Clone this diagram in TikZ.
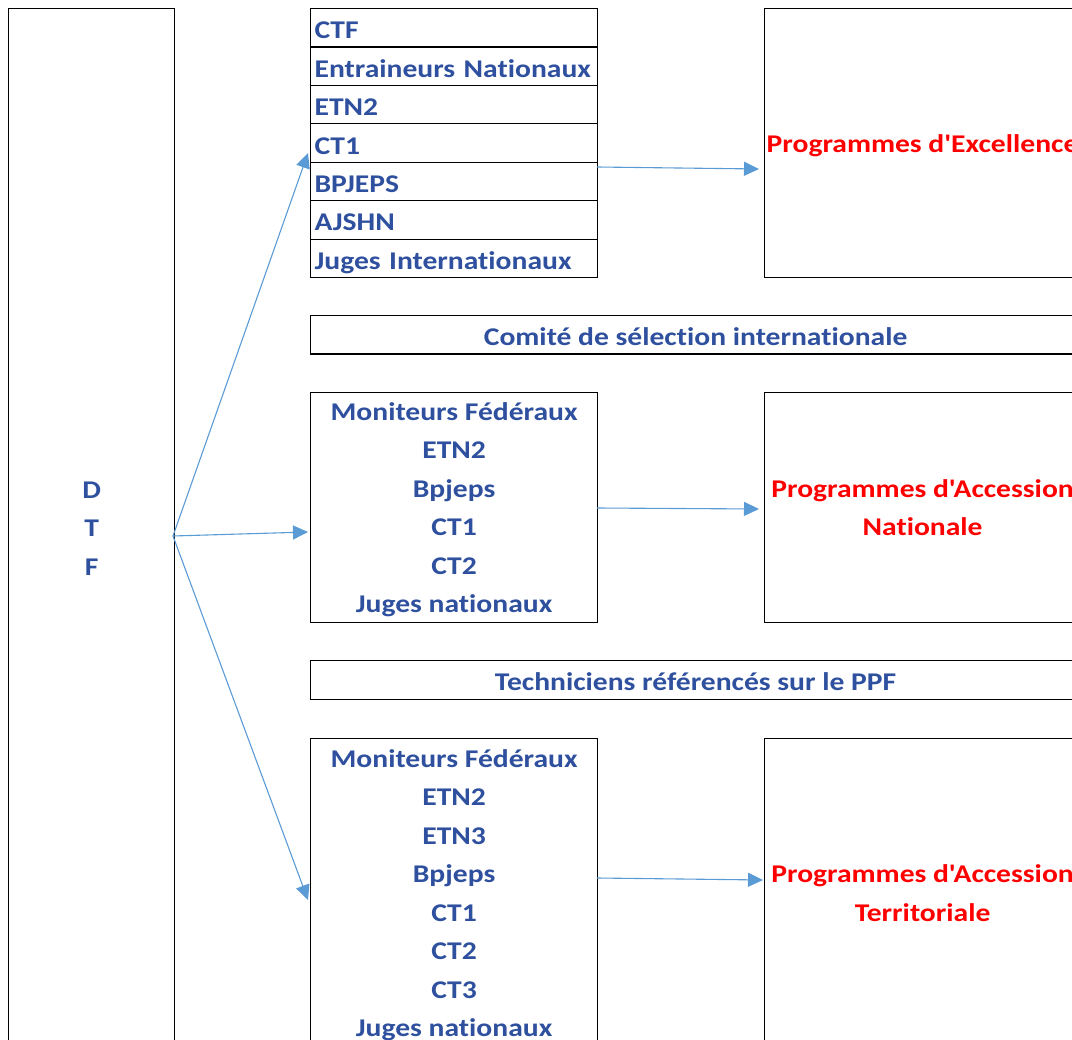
\documentclass[tikz,border=0pt]{standalone}
\usepackage{fontspec}
\newfontfamily\calfont{Carlito}[Ligatures=NoCommon, FakeStretch=1.16]
\usetikzlibrary{arrows.meta}
\definecolor{txtblue}{RGB}{46,80,158}
\definecolor{arrblue}{RGB}{91,155,213}
\definecolor{pred}{RGB}{255,0,0}
\begin{document}
\begin{tikzpicture}[x=1pt,y=-1pt,
  font=\calfont\fontsize{25.5}{38.5}\selectfont\bfseries,
  box/.style={draw=black, line width=1.2pt, inner sep=0pt, anchor=north west},
  row/.style={box, minimum width=287, minimum height=38.43, text width=279, align=left, inner xsep=4pt, text=txtblue, text height=22, text depth=0},
  blist/.style={box, minimum width=287, align=center, text=txtblue, text depth=0},
  prog/.style={box, minimum width=316, align=center, text=pred, text depth=0},
  bar/.style={box, minimum width=770, minimum height=38.5, text=txtblue, text height=22, text depth=0},
  arr/.style={draw=arrblue, line width=1.1pt, -{Triangle[length=15pt,width=14pt]}}]
\clip (0,0) rectangle (1072,1040);
\node[box, minimum width=166, minimum height=1040, align=center, text=txtblue] (dtf) at (8,8) {D\\T\\F};
\foreach \t [count=\i] in {CTF, Entraineurs Nationaux, ETN2, CT1, BPJEPS, AJSHN, Juges Internationaux}
  \node[row] (r\i) at (310,{8+38.43*(\i-1)}) {\t};
\node[prog, minimum height=269] (p1) at (764,8) {Programmes d'Excellence};
\node[bar] (c1) at (310,315) {Comité de sélection internationale};
\node[blist, minimum height=230] (m) at (310,392) {Moniteurs Fédéraux\\ETN2\\Bpjeps\\CT1\\CT2\\Juges nationaux};
\node[prog, minimum height=230] (p2) at (764,392) {Programmes d'Accession\\Nationale};
\node[bar] (c2) at (310,660) {Techniciens référencés sur le PPF};
\node[blist, minimum height=309] (b) at (310,738) {Moniteurs Fédéraux\\ETN2\\ETN3\\Bpjeps\\CT1\\CT2\\CT3\\Juges nationaux};
\node[prog, minimum height=309] (p3) at (764,738) {Programmes d'Accession\\Territoriale};
\coordinate (o) at (173,536);
\coordinate (e1) at (308,153);
\coordinate (e2) at (308,532);
\coordinate (e3) at (308,900);
\draw[arr] (o) -- (e1);
\draw[arr] (o) -- (e2);
\draw[arr] (o) -- (e3);
\coordinate (s1) at (597,167);
\coordinate (t1) at (759,169);
\coordinate (s2) at (597,508);
\coordinate (t2) at (759,509);
\coordinate (s3) at (597,878);
\coordinate (t3) at (763,880);
\draw[arr] (s1) -- (t1);
\draw[arr] (s2) -- (t2);
\draw[arr] (s3) -- (t3);
\end{tikzpicture}
\end{document}
